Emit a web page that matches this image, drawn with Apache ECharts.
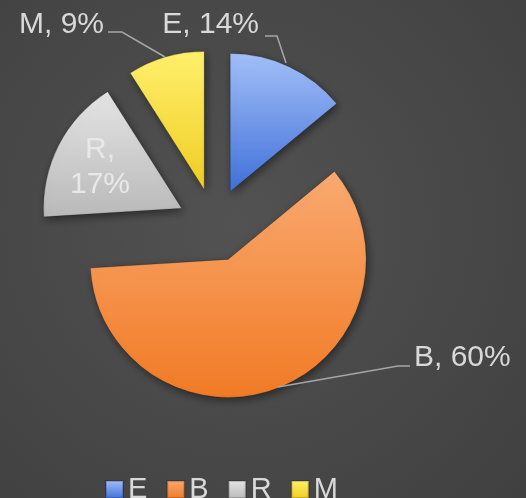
<!DOCTYPE html>
<html lang="en">
  <head>
    <meta charset="UTF-8" />
    <title>Pie</title>
    <style>
      html, body { margin: 0; padding: 0; background: #474747; }
      #main { width: 526px; height: 498px; }
    </style>
  </head>
  <body>
    <script src="https://cdn.jsdelivr.net/npm/echarts@6/dist/echarts.min.js"></script>
    <div id="main"></div>
    <script>
      const categories = ['E', 'B', 'R', 'M']
      const shares = [14, 60, 17, 9]

      // light / dark end of each slice's shading
      const topColors = ['#a3bff8', '#f9aa70', '#e4e4e4', '#fff06c']
      const bottomColors = ['#3f70d8', '#f17a25', '#b9b9b9', '#f0cc22']

      // callout placement as in the original (Excel puts them by hand)
      const callouts = {
        E: { x: 259, y: 25, align: 'right', line: [[286, 63], [277, 36], [265, 36]] },
        B: { x: 414, y: 358, align: 'left', line: [[278, 387], [398, 366], [410, 366]] },
        R: { x: 100, y: 167, align: 'center' },
        M: { x: 104, y: 25, align: 'right', line: [[165, 57], [122, 32], [108, 32]] }
      }

      const font = "'Liberation Sans', Arial, sans-serif"
      const center = [214.5, 225]
      const radius = 138
      const chart = echarts.init(document.getElementById('main'))

      const shade = (i) => ({
        type: 'linear',
        x: 0, y: 0, x2: 0, y2: 1,
        colorStops: [
          { offset: 0, color: topColors[i] },
          { offset: 1, color: bottomColors[i] }
        ]
      })

      chart.setOption({
        animation: false,
        backgroundColor: {
          type: 'radial',
          x: 0.45,
          y: 0.45,
          r: 0.8,
          colorStops: [
            { offset: 0, color: '#525252' },
            { offset: 1, color: '#404040' }
          ]
        },
        legend: {
          data: categories,
          left: 100,
          top: 470,
          icon: 'rect',
          itemWidth: 17,
          itemHeight: 17,
          itemGap: 19,
          selectedMode: false,
          textStyle: { color: '#d9d9d9', fontSize: 29, fontFamily: font }
        },
        series: [
          // the exploded slices
          {
            type: 'pie',
            center,
            radius,
            startAngle: 90,
            clockwise: true,
            selectedMode: 'multiple',
            selectedOffset: 37,
            label: { show: false },
            labelLine: { show: false },
            itemStyle: {
              borderWidth: 1,
              borderColor: 'rgba(0,0,0,0.18)',
              shadowBlur: 8,
              shadowColor: 'rgba(0,0,0,0.45)',
              shadowOffsetX: 2,
              shadowOffsetY: 3
            },
            data: categories.map((name, i) => ({
              name,
              value: shares[i],
              selected: true,
              itemStyle: { color: shade(i) }
            }))
          },
          // same data again, invisible, only carries the callouts
          {
            type: 'pie',
            z: 5,
            center,
            radius,
            startAngle: 90,
            clockwise: true,
            silent: true,
            avoidLabelOverlap: false,
            itemStyle: { color: 'transparent' },
            label: {
              show: true,
              formatter: '{b}, {c}%',
              color: '#d9d9d9',
              fontSize: 30,
              fontFamily: font
            },
            labelLine: {
              show: true,
              lineStyle: { color: '#a6a6a6', width: 1.5 }
            },
            labelLayout: (params) => {
              const c = callouts[categories[params.dataIndex]]
              const out = { x: c.x, y: c.y, align: c.align, verticalAlign: 'middle' }
              if (c.line) out.labelLinePoints = c.line
              return out
            },
            data: categories.map((name, i) => ({
              name,
              value: shares[i],
              label: name === 'R'
                ? { formatter: '{b},\n{c}%', color: '#e8e8e8', lineHeight: 35 }
                : {},
              labelLine: name === 'R' ? { show: false } : {}
            }))
          }
        ]
      })
    </script>
  </body>
</html>
